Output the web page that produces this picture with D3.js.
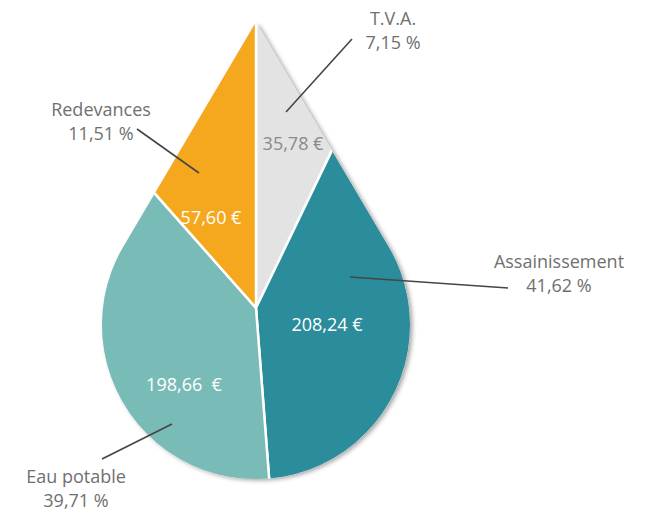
<!DOCTYPE html>
<html lang="fr">
<head>
<meta charset="UTF-8">
<title>Répartition du prix de l'eau</title>
<script src="https://d3js.org/d3.v7.min.js"></script>
<style>
  body { margin: 0; background: #fff; }
  svg { display: block; }
  text { font-family: "Open Sans", "Noto Sans", sans-serif; }
</style>
</head>
<body>
<svg id="chart" width="664" height="532"></svg>
<script>
// data, clockwise from 12 o'clock
const categories = ["T.V.A.", "Assainissement", "Eau potable", "Redevances"];
const euros = [35.78, 208.24, 198.66, 57.60];
const percents = [7.15, 41.62, 39.71, 11.51];
const euroLabels = ["35,78 €", "208,24 €", "198,66  €", "57,60 €"];
const colors = ["#e3e3e3", "#2b8d9b", "#79bbb7", "#f5a81d"];

// annotation layout (label anchors and leader lines)
const layout = [
  { lx: 393, ly: 25,  vx: 293, vy: 150, vc: "#8a8a8a", lead: [[286, 112], [352, 39]] },
  { lx: 559, ly: 268, vx: 327, vy: 331, vc: "#ffffff", lead: [[350, 277], [508, 288]] },
  { lx: 76,  ly: 483, vx: 184, vy: 391, vc: "#ffffff", lead: [[172, 424], [102, 459]] },
  { lx: 101, ly: 116, vx: 211, vy: 224, vc: "#ffffff", lead: [[199, 173], [137, 129]] }
];

const svg = d3.select("#chart");

// drop geometry: a circle with two tangents meeting at the tip
const cx = 256, cy = 325, R = 154, tipY = 22;
const pieCx = 256, pieCy = 308;
const th = Math.asin(R / (cy - tipY));
const tR = [cx + R * Math.cos(th), cy - R * Math.sin(th)];
const tL = [cx - R * Math.cos(th), cy - R * Math.sin(th)];
const k = 6; // small rounding at the tip
const dropPath = d3.path();
dropPath.moveTo(tL[0], tL[1]);
dropPath.lineTo(cx - k * Math.sin(th), tipY + k * Math.cos(th));
dropPath.quadraticCurveTo(cx, tipY - 1, cx + k * Math.sin(th), tipY + k * Math.cos(th));
dropPath.lineTo(tR[0], tR[1]);
dropPath.arc(cx, cy, R, -th, Math.PI + th, false);
dropPath.closePath();

const defs = svg.append("defs");
defs.append("clipPath").attr("id", "drop")
  .append("path").attr("d", dropPath.toString());
const shadow = defs.append("filter").attr("id", "shadow")
  .attr("x", "-10%").attr("y", "-10%").attr("width", "120%").attr("height", "120%");
shadow.append("feDropShadow")
  .attr("dx", 2.5).attr("dy", 1.5).attr("stdDeviation", 2)
  .attr("flood-color", "#000").attr("flood-opacity", 0.35);

// shadow underneath
svg.append("path")
  .attr("d", dropPath.toString())
  .attr("fill", "#ddd")
  .attr("filter", "url(#shadow)");

// slices
const pie = d3.pie().sort(null).value(d => d);
const arcs = pie(euros);
const arc = d3.arc().innerRadius(0).outerRadius(420);

svg.append("g")
  .attr("clip-path", "url(#drop)")
  .append("g")
  .attr("transform", `translate(${pieCx},${pieCy})`)
  .selectAll("path")
  .data(arcs)
  .join("path")
  .attr("d", arc)
  .attr("fill", (d, i) => colors[i])
  .attr("stroke", "#fff")
  .attr("stroke-width", 2.5)
  .attr("stroke-linejoin", "round");

// leader lines
svg.append("g")
  .selectAll("line")
  .data(layout)
  .join("line")
  .attr("x1", d => d.lead[0][0]).attr("y1", d => d.lead[0][1])
  .attr("x2", d => d.lead[1][0]).attr("y2", d => d.lead[1][1])
  .attr("stroke", "#454545")
  .attr("stroke-width", 1.6);

// values inside the slices
svg.append("g")
  .selectAll("text")
  .data(layout)
  .join("text")
  .attr("x", d => d.vx).attr("y", d => d.vy)
  .attr("text-anchor", "middle")
  .attr("fill", d => d.vc)
  .style("font-size", "18px")
  .style("white-space", "pre")
  .text((d, i) => euroLabels[i]);

// category names and percentages
const fmt = d3.formatLocale({ decimal: ",", thousands: " ", grouping: [3], currency: ["", ""] }).format(".2f");
const outer = svg.append("g")
  .selectAll("text")
  .data(layout)
  .join("text")
  .attr("text-anchor", "middle")
  .attr("fill", "#707070")
  .style("font-size", "18px");
outer.append("tspan")
  .attr("x", d => d.lx).attr("y", d => d.ly)
  .text((d, i) => categories[i]);
outer.append("tspan")
  .attr("x", d => d.lx).attr("dy", 24)
  .text((d, i) => fmt(percents[i]) + " %");
</script>
</body>
</html>
